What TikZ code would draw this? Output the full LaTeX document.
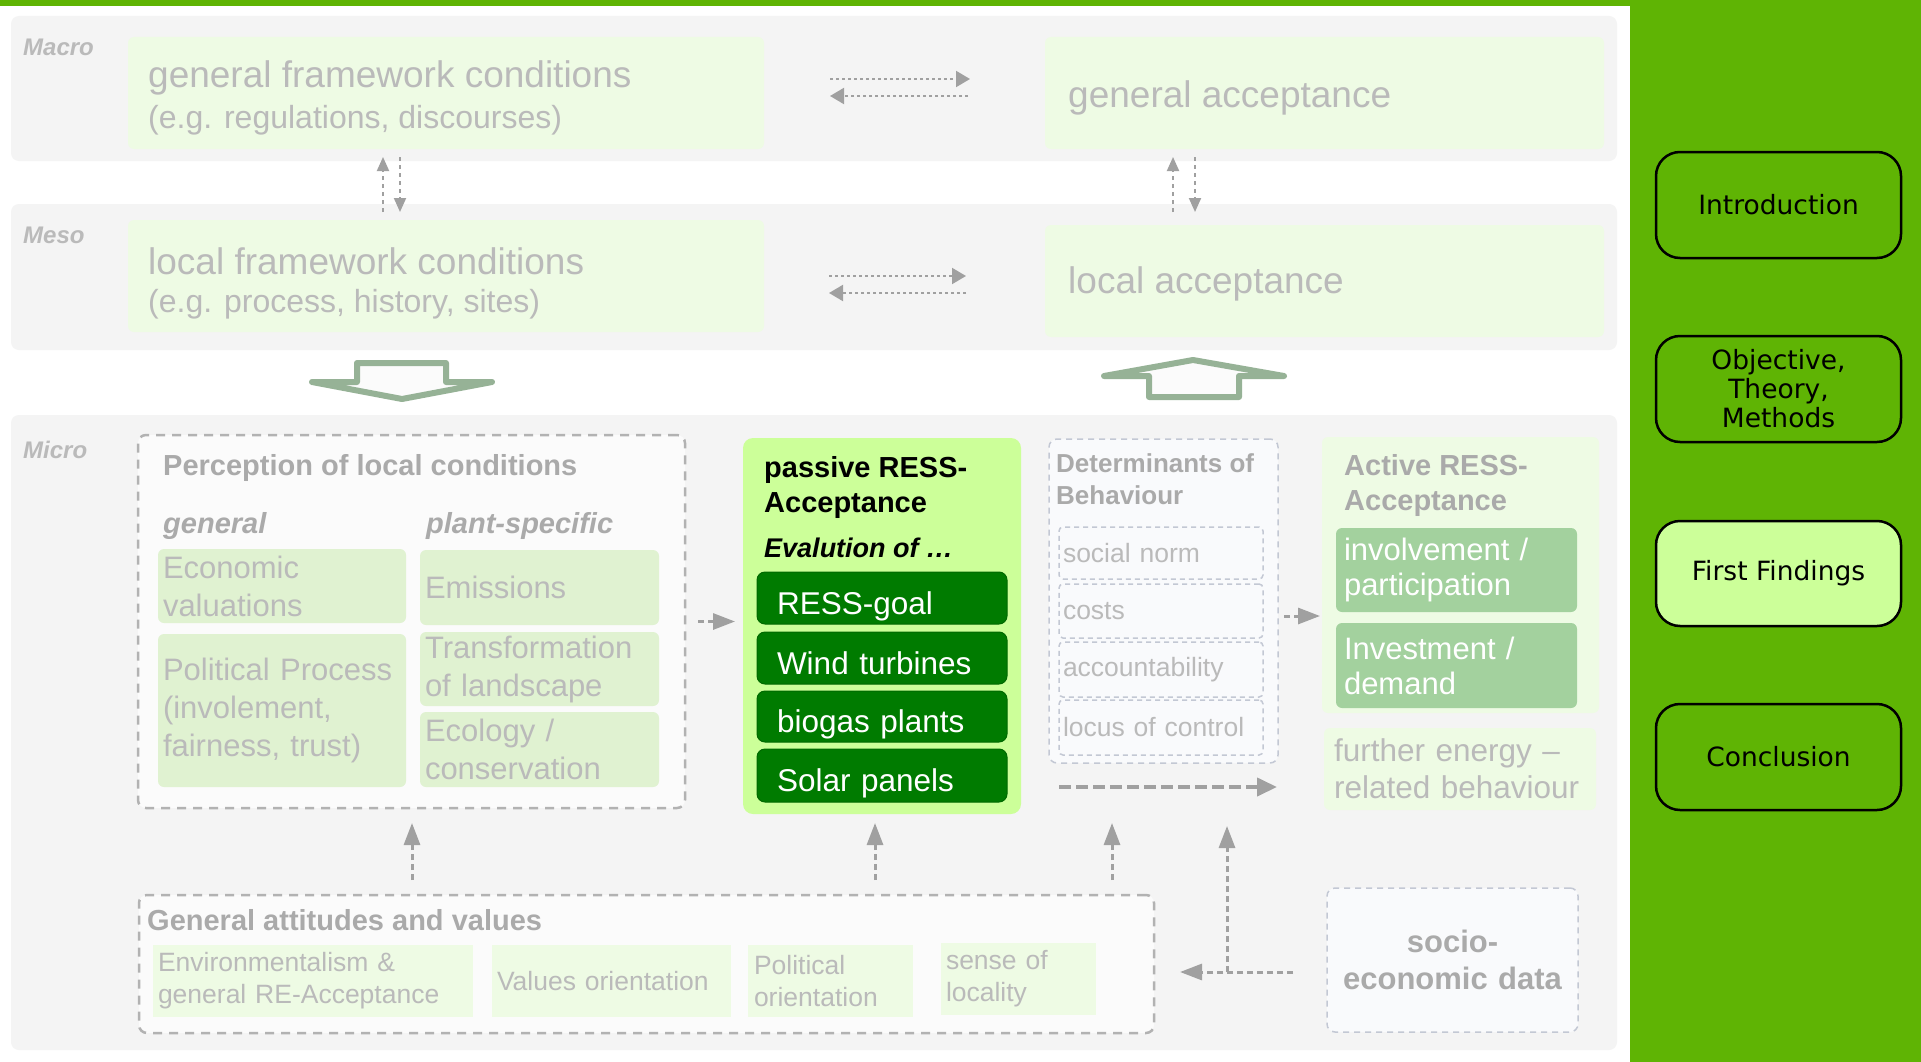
\documentclass[tikz,border=0pt]{standalone}
\usepackage{fontspec}
\setmainfont{Liberation Sans}
\newfontfamily\verd{DejaVu Sans}
\usetikzlibrary{arrows.meta}
\definecolor{side}{RGB}{95,180,4}
\definecolor{panelbg}{RGB}{244,244,244}
\definecolor{palegreen}{RGB}{238,251,228}
\definecolor{boxgreen}{RGB}{224,242,209}
\definecolor{midgreen}{RGB}{163,209,158}
\definecolor{passgreen}{RGB}{204,255,153}
\definecolor{darkgreen}{RGB}{0,123,0}
\definecolor{txtgray}{RGB}{186,186,186}
\definecolor{ttlgray}{RGB}{170,170,170}
\definecolor{dashgray}{RGB}{178,178,178}
\definecolor{arrgray}{RGB}{160,160,160}
\definecolor{bigarr}{RGB}{150,178,150}
\definecolor{detbg}{RGB}{249,250,252}
\definecolor{detline}{RGB}{195,200,212}
\tikzset{
 nw/.style={anchor=north west, inner sep=0pt, outer sep=0pt},
 sz/.style 2 args={minimum width=#1pt, minimum height=#2pt},
 lt/.style 2 args={text width=#1pt, inner xsep=#2pt, align=left},
 panel/.style={nw, fill=panelbg, rounded corners=8pt},
 palebox/.style={nw, fill=palegreen, rounded corners=6pt},
 subbox/.style={nw, fill=boxgreen, rounded corners=6pt, text=txtgray, font=\fontsize{31}{38}\selectfont},
 midbox/.style={nw, fill=midgreen, rounded corners=6pt, text=white, font=\fontsize{31}{35}\selectfont},
 attbox/.style={nw, fill=palegreen, text=txtgray, font=\fontsize{26.5}{32}\selectfont},
 detsub/.style={nw, draw=detline, line width=1.5pt, dash pattern=on 5pt off 4pt, rounded corners=4pt, text=txtgray, font=\fontsize{26.5}{30}\selectfont},
 dbox/.style={nw, draw=dashgray, line width=2.5pt, dash pattern=on 9pt off 7pt, rounded corners=8pt, fill=panelbg!40!white},
 dbox2/.style={nw, draw=detline, line width=1.5pt, dash pattern=on 6pt off 5pt, rounded corners=8pt, fill=detbg},
 darkbox/.style={nw, fill=darkgreen, draw=darkgreen!85!black, line width=1pt, rounded corners=8pt, text=white, text height=32pt, text depth=0pt, font=\fontsize{31.5}{36}\selectfont},
 btn/.style={nw, draw=black, line width=2.5pt, rounded corners=24pt, fill=side, align=center, font=\verd\fontsize{26.5}{29}\selectfont},
 lvl/.style={anchor=west, inner sep=0pt, text=txtgray, font=\bfseries\itshape\fontsize{24}{28}\selectfont},
 bigtxt/.style={anchor=west, inner sep=0pt, text=txtgray, font=\fontsize{37}{42}\selectfont},
 medtxt/.style={anchor=west, inner sep=0pt, text=txtgray, font=\fontsize{32}{38}\selectfont},
 ttl/.style={anchor=west, inner sep=0pt, text=ttlgray, align=left, font=\bfseries\fontsize{29}{35}\selectfont},
 ttlit/.style={ttl, font=\bfseries\itshape\fontsize{29}{35}\selectfont},
 darr/.style={draw=arrgray, line width=2pt, dash pattern=on 3pt off 3pt, -{Triangle[length=14pt,width=16pt]}},
 varr/.style={draw=arrgray, line width=2pt, dash pattern=on 4pt off 4pt, -{Triangle[length=14pt,width=12pt]}},
 arr/.style={draw=arrgray, line width=3pt, dash pattern=on 6pt off 4pt, -{Triangle[length=22pt,width=16pt]}},
 larr/.style={draw=arrgray, line width=4pt, dash pattern=on 12pt off 5pt, -{Triangle[length=20pt,width=18pt]}},
 blockarr/.style={draw=bigarr, line width=6pt, line join=round, fill=panelbg!40!white},
}
\begin{document}
\begin{tikzpicture}[x=1pt,y=-1pt]
\useasboundingbox (0,0) rectangle (1921,1062);
\fill[white] (0,0) rectangle (1921,1062);
\fill[side] (0,0) rectangle (1921,6);
\fill[side] (1630,0) rectangle (1921,1062);

% panels
\node[panel, sz={1606}{145}] (macro) at (11,16) {};
\node[panel, sz={1606}{146}] (meso) at (11,204) {};
\node[panel, sz={1606}{635}] (micro) at (11,415) {};
\node[lvl] (lmacro) at (23,47) {Macro};
\node[lvl] (lmeso) at (23,235) {Meso};
\node[lvl] (lmicro) at (23,450) {Micro};

% macro row
\node[palebox, sz={636}{112}] (gfc) at (128,37) {};
\node[bigtxt] (gfct) at (148,78) {general framework conditions};
\node[medtxt] (gfcs) at (148,120) {(e.g. regulations, discourses)};
\node[palebox, sz={559}{112}] (gacc) at (1045,37) {};
\node[bigtxt] (gacct) at (1068,98) {general acceptance};
\coordinate (h1a) at (830,79); \coordinate (h1b) at (970,79);
\coordinate (h2a) at (968,96); \coordinate (h2b) at (830,96);
\draw[darr] (h1a) -- (h1b);
\draw[darr] (h2a) -- (h2b);

% vertical macro-meso arrows
\coordinate (v1a) at (383,212); \coordinate (v1b) at (383,157);
\coordinate (v2a) at (400,157); \coordinate (v2b) at (400,212);
\coordinate (v3a) at (1173,212); \coordinate (v3b) at (1173,157);
\coordinate (v4a) at (1195,157); \coordinate (v4b) at (1195,212);
\draw[varr] (v1a) -- (v1b);
\draw[varr] (v2a) -- (v2b);
\draw[varr] (v3a) -- (v3b);
\draw[varr] (v4a) -- (v4b);

% meso row
\node[palebox, sz={636}{112}] (lfc) at (128,220) {};
\node[bigtxt] (lfct) at (148,261) {local framework conditions};
\node[medtxt] (lfcs) at (148,304) {(e.g. process, history, sites)};
\node[palebox, sz={559}{112}] (lacc) at (1045,225) {};
\node[bigtxt] (lacct) at (1068,284) {local acceptance};
\coordinate (h3a) at (829,276); \coordinate (h3b) at (966,276);
\coordinate (h4a) at (966,293); \coordinate (h4b) at (829,293);
\draw[darr] (h3a) -- (h3b);
\draw[darr] (h4a) -- (h4b);

% block arrows
\draw[blockarr] (357,363) -- (446,363) -- (446,382) -- (492,382) -- (402,399) -- (312,382) -- (357,382) -- cycle;
\draw[blockarr] (1104,376) -- (1193,360) -- (1284,376) -- (1239,376) -- (1239,397) -- (1149,397) -- (1149,376) -- cycle;

% perception
\node[dbox, sz={547}{373}] (perc) at (138,435) {};
\node[ttl] (perct) at (163,468) {Perception of local conditions};
\node[ttlit] (gen) at (163,526) {general};
\node[ttlit] (plsp) at (426,526) {plant-specific};
\node[subbox, sz={248}{74}, lt={238}{5}] (econ) at (158,549) {Economic\\valuations};
\node[subbox, sz={248}{153}, lt={238}{5}] (polit) at (158,634) {Political Process\\(involement,\\fairness, trust)};
\node[subbox, sz={239}{75}, lt={229}{5}] (emis) at (420,550) {Emissions};
\node[subbox, sz={239}{74}, lt={229}{5}] (transf) at (420,632) {Transformation\\of landscape};
\node[subbox, sz={239}{75}, lt={229}{5}] (ecol) at (420,712) {Ecology /\\conservation};

% passive
\node[nw, fill=passgreen, rounded corners=10pt, sz={278}{376}] (pass) at (743,438) {};
\node[anchor=west, inner sep=0pt, align=left, font=\bfseries\fontsize{29}{35}\selectfont] (passt) at (764,487.5) {passive RESS-\\Acceptance};
\node[anchor=west, inner sep=0pt, font=\bfseries\itshape\fontsize{27}{32}\selectfont] (evt) at (764,548) {Evalution of …};
\node[darkbox, sz={250}{52}, lt={210}{20}] (goal) at (757,572) {RESS-goal};
\node[darkbox, sz={250}{52}, lt={210}{20}] (wind) at (757,632) {Wind turbines};
\node[darkbox, sz={250}{51}, lt={210}{20}] (bio) at (757,691) {biogas plants};
\node[darkbox, sz={250}{53}, lt={210}{20}] (solar) at (757,749) {Solar panels};
\draw[arr, shorten <=13pt, shorten >=8pt] (perc.east) -- (pass.west |- perc.east);

% determinants
\node[dbox2, sz={229}{324}] (det) at (1049,439) {};
\node[ttl, font=\bfseries\fontsize{26}{32}\selectfont] (dett) at (1056,479) {Determinants of\\Behaviour};
\node[detsub, sz={204}{52}, lt={196}{4}] (soc) at (1059,527) {social norm};
\node[detsub, sz={204}{54}, lt={196}{4}] (cost) at (1059,584) {costs};
\node[detsub, sz={204}{55}, lt={196}{4}] (acco) at (1059,642) {accountability};
\node[detsub, sz={204}{55}, lt={196}{4}] (locus) at (1059,700) {locus of control};
\coordinate (dl) at (1059,787); \coordinate (dr) at (1277,787);
\draw[larr] (dl) -- (dr);

% active
\node[palebox, sz={277}{276}] (act) at (1322,437) {};
\node[ttl] (actt) at (1344,485.5) {Active RESS-\\Acceptance};
\node[midbox, sz={241}{84}, lt={225}{8}] (inv) at (1336,528) {involvement /\\participation};
\node[midbox, sz={241}{85}, lt={225}{8}] (invest) at (1336,623) {Investment /\\demand};
\node[palebox, sz={272}{82}, lt={252}{10}, text=txtgray, font=\fontsize{31.5}{37}\selectfont] (further) at (1324,728) {further energy –\\related behaviour};
\coordinate (da) at (1284,616); \coordinate (db) at (1320,616);
\draw[arr] (da) -- (db);

% general attitudes
\node[dbox, sz={1015}{138}] (gav) at (139,895) {};
\node[ttl] (gavt) at (147,920) {General attitudes and values};
\node[attbox, sz={320}{72}, lt={310}{5}] (env) at (153,945) {Environmentalism \&\\general RE-Acceptance};
\node[attbox, sz={239}{72}, lt={229}{5}] (valo) at (492,945) {Values orientation};
\node[attbox, sz={165}{72}, lt={153}{6}] (polo) at (748,945) {Political\\orientation};
\node[attbox, sz={155}{72}, lt={145}{5}] (sloc) at (941,943) {sense of\\locality};

\coordinate (u1a) at (412,880); \coordinate (u1b) at (412,823);
\coordinate (u2a) at (875,880); \coordinate (u2b) at (875,823);
\coordinate (u3a) at (1112,880); \coordinate (u3b) at (1112,823);
\draw[arr] (u1a) -- (u1b);
\draw[arr] (u2a) -- (u2b);
\draw[arr] (u3a) -- (u3b);

% socio-economic
\node[dbox2, sz={251}{144}, text width=231pt, inner xsep=10pt, align=center, text=ttlgray, font=\bfseries\fontsize{31}{37}\selectfont] (socio) at (1327,888) {socio-\\economic data};
\coordinate (sj) at (1293,972); \coordinate (sh) at (1180,972);
\coordinate (sv0) at (1227,972); \coordinate (sv1) at (1227,826);
\draw[arr] (sj) -- (sh);
\draw[arr] (sv0) -- (sv1);

% sidebar
\node[btn, sz={245}{106}] (intro) at (1656,152) {Introduction};
\node[btn, sz={245}{106}] (obj) at (1656,336) {Objective,\\Theory,\\Methods};
\node[btn, sz={245}{105}, fill=passgreen] (first) at (1656,521) {First Findings};
\node[btn, sz={245}{106}] (concl) at (1656,704) {Conclusion};
\end{tikzpicture}
\end{document}
